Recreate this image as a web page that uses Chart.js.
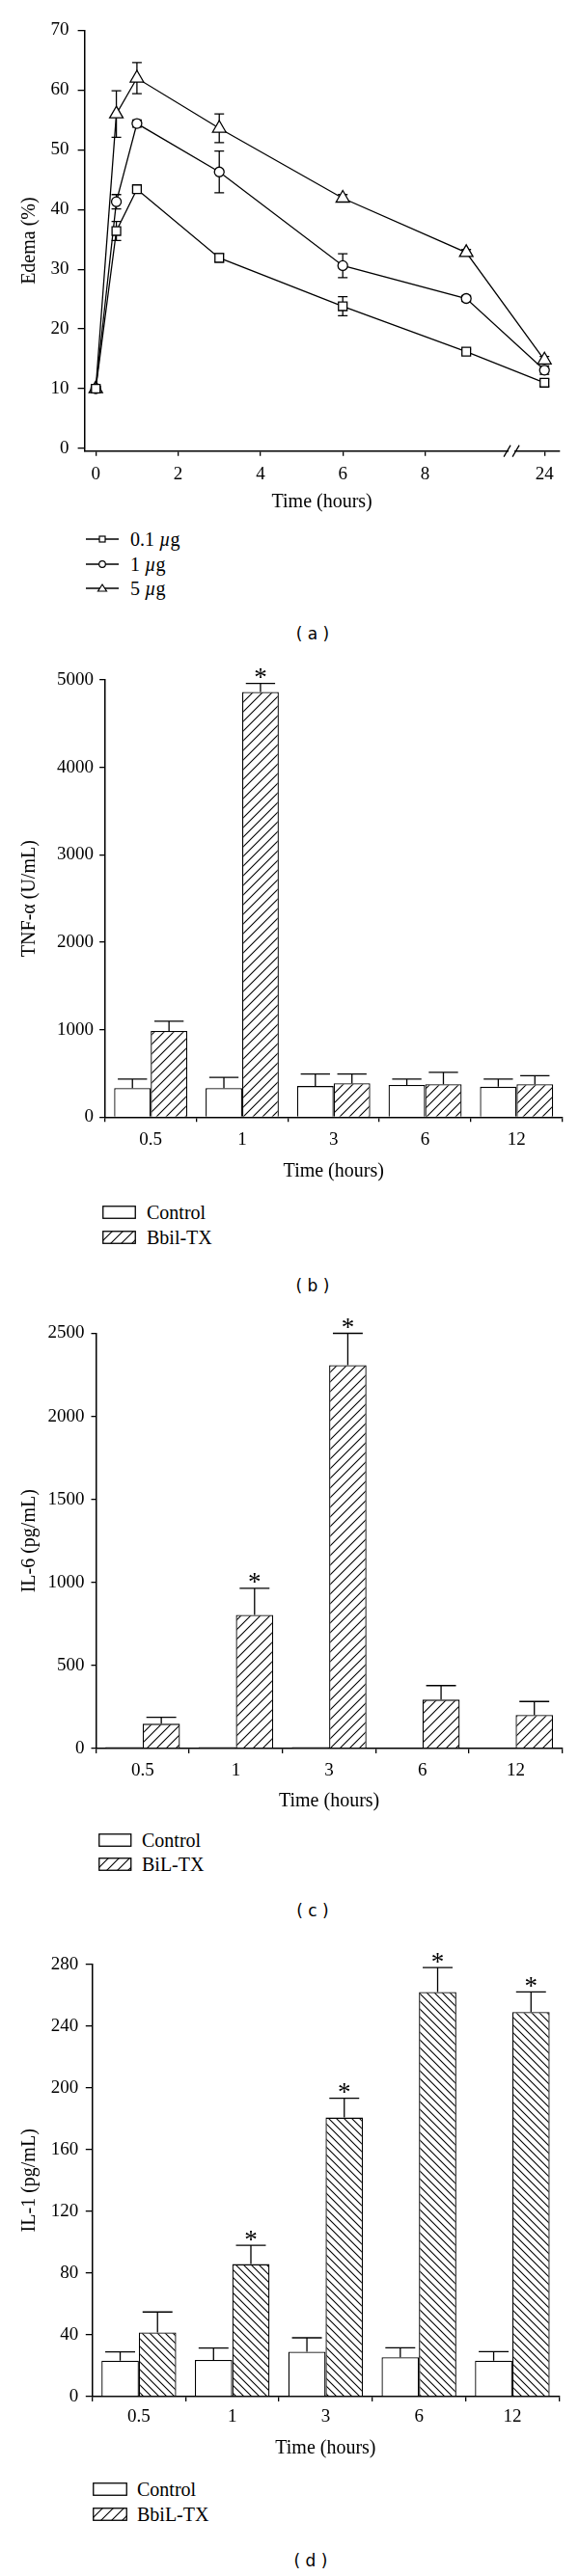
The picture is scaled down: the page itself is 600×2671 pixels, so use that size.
<!DOCTYPE html>
<html>
<head>
<meta charset="utf-8">
<script src="https://cdn.jsdelivr.net/npm/chart.js@4.4.0/dist/chart.umd.min.js"></script>
<style>
  body { margin: 0; background: #fff; }
  #page { position: relative; width: 600px; height: 2671px; font-family: "Liberation Serif", serif; color: #000; overflow: hidden; }
  .panel { position: absolute; left: 0; }
  .legend-row { position: absolute; height: 24px; line-height: 24px; font-size: 20px; white-space: nowrap; }
  .legend-row svg { position: absolute; left: 0; top: 5px; }
  .tag { position: absolute; font-family: "DejaVu Sans", sans-serif; font-size: 17px; line-height: 20px; transform: translateX(-50%); white-space: pre; }
</style>
</head>
<body>
<div id="page">
  <canvas id="chartA" class="panel" style="top:0px" width="600" height="533"></canvas>
  <canvas id="chartB" class="panel" style="top:680px" width="600" height="547"></canvas>
  <canvas id="chartC" class="panel" style="top:1345px" width="600" height="535"></canvas>
  <canvas id="chartD" class="panel" style="top:2000px" width="600" height="551"></canvas>

  <svg width="0" height="0" style="position:absolute">
    <defs>
      <pattern id="legHatch" width="11" height="11" patternUnits="userSpaceOnUse">
        <rect width="11" height="11" fill="#fff"/>
        <path d="M0,11 L11,0 M-1,1 L1,-1 M10,12 L12,10" stroke="#000" stroke-width="1.1"/>
      </pattern>
    </defs>
  </svg>

  <!-- legend (a) -->
  <div class="legend-row" style="left:89px; top:547px; padding-left:46px">
    <svg width="34" height="14"><line x1="0" y1="7" x2="34" y2="7" stroke="#000" stroke-width="1.3"/><rect x="14" y="4" width="6" height="6" fill="#fff" stroke="#000" stroke-width="1.2"/></svg>0.1 <i>µ</i>g</div>
  <div class="legend-row" style="left:89px; top:573px; padding-left:46px">
    <svg width="34" height="14"><line x1="0" y1="7" x2="34" y2="7" stroke="#000" stroke-width="1.3"/><circle cx="17" cy="7" r="3.3" fill="#fff" stroke="#000" stroke-width="1.2"/></svg>1 <i>µ</i>g</div>
  <div class="legend-row" style="left:89px; top:598px; padding-left:46px">
    <svg width="34" height="14"><line x1="0" y1="7" x2="34" y2="7" stroke="#000" stroke-width="1.3"/><polygon points="17,3 21.5,10 12.5,10" fill="#fff" stroke="#000" stroke-width="1.2"/></svg>5 <i>µ</i>g</div>
  <div class="tag" style="left:324px; top:647px">( a )</div>

  <!-- legend (b) -->
  <div class="legend-row" style="left:106px; top:1245px; padding-left:46px">
    <svg width="35" height="14"><rect x="0.75" y="0.75" width="33.5" height="12.5" fill="#fff" stroke="#000" stroke-width="1.3"/></svg>Control</div>
  <div class="legend-row" style="left:106px; top:1271px; padding-left:46px">
    <svg width="35" height="14"><rect x="0.75" y="0.75" width="33.5" height="12.5" fill="url(#legHatch)" stroke="#000" stroke-width="1.3"/></svg>Bbil-TX</div>
  <div class="tag" style="left:324px; top:1323px">( b )</div>

  <!-- legend (c) -->
  <div class="legend-row" style="left:102px; top:1896px; padding-left:45px">
    <svg width="35" height="14"><rect x="0.75" y="0.75" width="33" height="12.5" fill="#fff" stroke="#000" stroke-width="1.3"/></svg>Control</div>
  <div class="legend-row" style="left:102px; top:1921px; padding-left:45px">
    <svg width="35" height="14"><rect x="0.75" y="0.75" width="33" height="12.5" fill="url(#legHatch)" stroke="#000" stroke-width="1.3"/></svg>BiL-TX</div>
  <div class="tag" style="left:324px; top:1971px">( c )</div>

  <!-- legend (d) -->
  <div class="legend-row" style="left:96px; top:2569px; padding-left:46px">
    <svg width="36" height="14"><rect x="0.75" y="0.75" width="34.5" height="12.5" fill="#fff" stroke="#000" stroke-width="1.3"/></svg>Control</div>
  <div class="legend-row" style="left:96px; top:2595px; padding-left:46px">
    <svg width="36" height="14"><rect x="0.75" y="0.75" width="34.5" height="12.5" fill="url(#legHatch)" stroke="#000" stroke-width="1.3"/></svg>BbiL-TX</div>
  <div class="tag" style="left:322px; top:2645px">( d )</div>
</div>

<script>
// ---- data ----
// (a) paw edema
const edemaHours = [0, 0.5, 1, 3, 6, 9, 24];
const edemaTickHours = [0, 2, 4, 6, 8, 24];
const edemaYTicks = [0, 10, 20, 30, 40, 50, 60, 70];
const dose01 = [10, 36.4, 43.4, 31.9, 23.8, 16.2, 11.0];
const dose01Err = [0.4, 1.6, 0.5, 0.7, 1.6, 0.4, 0.6];
const dose1 = [10, 41.3, 54.4, 46.3, 30.6, 25.1, 13.1];
const dose1Err = [0.4, 1.2, 0.6, 3.5, 2.0, 0.5, 0.7];
const dose5 = [10, 56.0, 62.0, 53.6, 41.9, 32.8, 14.8];
const dose5Err = [0.4, 3.9, 2.6, 2.4, 0.6, 0.5, 0.6];

// (b)-(d) cytokines
const hourLabels = ['0.5', '1', '3', '6', '12'];

const tnfYTicks = [0, 1000, 2000, 3000, 4000, 5000];
const tnfControl = [331, 331, 355, 367, 347];
const tnfControlErr = [103, 123, 138, 67, 87];
const tnfToxin = [986, 4862, 387, 375, 375];
const tnfToxinErr = [111, 98, 106, 138, 98];
const tnfStars = [false, true, false, false, false];

const il6YTicks = [0, 500, 1000, 1500, 2000, 2500];
const il6Control = [8, 8, 8, 6, 6];
const il6Toxin = [149, 804, 2309, 294, 202];
const il6ToxinErr = [39, 161, 191, 85, 81];
const il6Stars = [false, true, true, false, false];

const il1YTicks = [0, 40, 80, 120, 160, 200, 240, 280];
const il1Control = [23.3, 23.7, 29.1, 25.4, 23.3];
const il1ControlErr = [5.6, 7.7, 9.0, 6.2, 5.8];
const il1Toxin = [41.6, 85.8, 180.7, 262, 249];
const il1ToxinErr = [13.2, 12.1, 12.5, 15.8, 13.0];
const il1Stars = [false, true, true, true, true];

// axis break in (a): everything after 9 h is squeezed
const breakFrom = 9;
const squeeze = 1.9 / 15;
const breakMarkAt = 10.1;
function axisHour(h) {
    return h <= breakFrom ? h : breakFrom + (h - breakFrom) * squeeze;
}

Chart.defaults.font.family = '"Liberation Serif", serif';
Chart.defaults.color = '#000';
Chart.defaults.animation = false;

function hatch(ctx, dir, gap) {
    const c = document.createElement('canvas');
    c.width = gap; c.height = gap;
    const g = c.getContext('2d');
    g.fillStyle = '#fff';
    g.fillRect(0, 0, gap, gap);
    g.strokeStyle = '#000';
    g.lineWidth = 1.1;
    g.beginPath();
    if (dir === '/') {
        g.moveTo(0, gap); g.lineTo(gap, 0);
        g.moveTo(-1, 1); g.lineTo(1, -1);
        g.moveTo(gap - 1, gap + 1); g.lineTo(gap + 1, gap - 1);
    } else {
        g.moveTo(0, 0); g.lineTo(gap, gap);
        g.moveTo(gap - 1, -1); g.lineTo(gap + 1, 1);
        g.moveTo(-1, gap - 1); g.lineTo(1, gap + 1);
    }
    g.stroke();
    return ctx.createPattern(c, 'repeat');
}

function valueOf(point) {
    return (typeof point === 'object') ? point.y : point;
}

function drawErrorBars(chart, mode) {
    const ctx = chart.ctx;
    const yScale = chart.scales.y;
    chart.data.datasets.forEach((ds, i) => {
        if (!ds.errors || ds.errorMode !== mode) return;
        const meta = chart.getDatasetMeta(i);
        meta.data.forEach((el, j) => {
            const err = ds.errors[j];
            if (!err) return;
            const v = valueOf(ds.data[j]);
            const x = el.x;
            const yTop = yScale.getPixelForValue(v + err);
            const yBot = mode === 'both' ? yScale.getPixelForValue(v - err) : el.y;
            const half = ds.capHalf || el.width * 0.4;
            ctx.save();
            ctx.strokeStyle = '#000';
            ctx.lineWidth = 1.3;
            ctx.beginPath();
            ctx.moveTo(x, yTop); ctx.lineTo(x, yBot);
            ctx.moveTo(x - half, yTop); ctx.lineTo(x + half, yTop);
            if (mode === 'both') {
                ctx.moveTo(x - half, yBot); ctx.lineTo(x + half, yBot);
            }
            ctx.stroke();
            ctx.restore();
        });
    });
}

function drawStars(chart) {
    const ctx = chart.ctx;
    const yScale = chart.scales.y;
    chart.data.datasets.forEach((ds, i) => {
        if (!ds.stars) return;
        const meta = chart.getDatasetMeta(i);
        ctx.save();
        ctx.font = '27px "Liberation Serif", serif';
        ctx.fillStyle = '#000';
        ctx.textAlign = 'center';
        ctx.textBaseline = 'alphabetic';
        const m = ctx.measureText('*');
        const shift = (m.actualBoundingBoxAscent - m.actualBoundingBoxDescent) / 2;
        meta.data.forEach((el, j) => {
            if (!ds.stars[j]) return;
            const top = yScale.getPixelForValue(valueOf(ds.data[j]) + (ds.errors ? ds.errors[j] : 0));
            ctx.fillText('*', el.x, top - 10 + shift);
        });
        ctx.restore();
    });
}

const errorBarPlugin = {
    id: 'errorBarPlugin',
    beforeDatasetsDraw(chart) { drawErrorBars(chart, 'both'); },
    afterDatasetsDraw(chart) { drawErrorBars(chart, 'up'); drawStars(chart); }
};

const axisBreakPlugin = {
    id: 'axisBreakPlugin',
    afterDraw(chart) {
        if (!chart.options.plugins.axisBreakPlugin) return;
        const ctx = chart.ctx;
        const x = chart.scales.x.getPixelForValue(breakMarkAt);
        const y = chart.chartArea.bottom;
        ctx.save();
        ctx.fillStyle = '#fff';
        ctx.fillRect(x - 3, y - 2, 6, 4);
        ctx.strokeStyle = '#000';
        ctx.lineWidth = 1.3;
        ctx.beginPath();
        ctx.moveTo(x - 8, y + 6); ctx.lineTo(x - 1, y - 6);
        ctx.moveTo(x + 1, y + 6); ctx.lineTo(x + 8, y - 6);
        ctx.stroke();
        ctx.restore();
    }
};

function axisLook(tickLength) {
    return {
        grid: { display: true, drawOnChartArea: false, drawTicks: true, tickLength: tickLength, color: '#000', lineWidth: 1.3 },
        border: { display: true, color: '#000', width: 1.5 }
    };
}

// plot box: left / top / right in canvas pixels, xh = height of the x-axis band
function makeScales(box, yTicks, yMin, yMax, yTitle, yTick, xTickPad) {
    return {
        x: {
            ...axisLook(5),
            ticks: { font: { size: 19 }, color: '#000', padding: xTickPad, maxRotation: 0, autoSkip: false },
            title: { display: true, text: 'Time (hours)', font: { size: 20 }, color: '#000', padding: { top: 0, bottom: 0 } },
            afterFit: (s) => { s.height = box.xh; }
        },
        y: {
            min: yMin,
            max: yMax,
            ...axisLook(yTick.len),
            ticks: { font: { size: 19 }, color: '#000', padding: yTick.pad, callback: (v) => String(v) },
            afterBuildTicks: (s) => { s.ticks = yTicks.map(v => ({ value: v })); },
            title: { display: true, text: yTitle, font: { size: 20 }, color: '#000', padding: { top: 19, bottom: 0 } },
            afterFit: (s) => { s.width = box.left; }
        }
    };
}

function layoutFor(box) {
    return { padding: { left: 0, top: box.top, right: 600 - box.right, bottom: 0 } };
}

// ---- (a) edema line chart ----
const boxA = { left: 87.3, top: 31.5, right: 580, xh: 65.3 };
const scalesA = makeScales(boxA, edemaYTicks, -0.45, 70, 'Edema (%)', { len: 6.7, pad: 9 }, 7.6);
scalesA.x.type = 'linear';
scalesA.x.min = -0.28;
scalesA.x.max = 11.27;
scalesA.x.afterBuildTicks = (s) => { s.ticks = edemaTickHours.map(h => ({ value: axisHour(h) })); };
scalesA.x.ticks.callback = (v, i) => String(edemaTickHours[i]);

function doseSet(label, values, errs, style, radius) {
    return {
        label: label,
        data: edemaHours.map((h, i) => ({ x: axisHour(h), y: values[i] })),
        borderColor: '#000',
        borderWidth: 1.3,
        tension: 0,
        pointStyle: style,
        pointRadius: radius,
        pointBackgroundColor: '#fff',
        pointBorderColor: '#000',
        pointBorderWidth: 1.3,
        errors: errs,
        errorMode: 'both',
        capHalf: 5
    };
}

new Chart(document.getElementById('chartA'), {
    type: 'line',
    data: {
        datasets: [
            doseSet('0.1 µg', dose01, dose01Err, 'rect', 6.3),
            doseSet('1 µg', dose1, dose1Err, 'circle', 5),
            doseSet('5 µg', dose5, dose5Err, 'triangle', 8)
        ]
    },
    options: {
        responsive: false,
        maintainAspectRatio: false,
        layout: layoutFor(boxA),
        scales: scalesA,
        plugins: { legend: { display: false }, tooltip: { enabled: false }, axisBreakPlugin: true }
    },
    plugins: [errorBarPlugin, axisBreakPlugin]
});

// ---- bar charts ----
function barChart(id, box, yTicks, yTitle, yTick, xTickPad, control, controlErr, toxin, toxinErr, stars, dir, gap) {
    const canvas = document.getElementById(id);
    const ctx = canvas.getContext('2d');
    return new Chart(ctx, {
        type: 'bar',
        data: {
            labels: hourLabels,
            datasets: [
                {
                    label: 'Control',
                    data: control,
                    backgroundColor: '#fff',
                    borderColor: '#000',
                    borderWidth: 1.3,
                    errors: controlErr,
                    errorMode: 'up'
                },
                {
                    label: 'Toxin',
                    data: toxin,
                    backgroundColor: hatch(ctx, dir, gap),
                    borderColor: '#000',
                    borderWidth: 1.3,
                    errors: toxinErr,
                    errorMode: 'up',
                    stars: stars
                }
            ]
        },
        options: {
            responsive: false,
            maintainAspectRatio: false,
            categoryPercentage: 0.8,
            barPercentage: 1.0,
            layout: layoutFor(box),
            scales: makeScales(box, yTicks, 0, yTicks[yTicks.length - 1], yTitle, yTick, xTickPad),
            plugins: { legend: { display: false }, tooltip: { enabled: false } }
        },
        plugins: [errorBarPlugin]
    });
}

barChart('chartB', { left: 108.8, top: 25, right: 582.7, xh: 68.7 }, tnfYTicks, 'TNF-α (U/mL)',
    { len: 5.7, pad: 6 }, 7, tnfControl, tnfControlErr, tnfToxin, tnfToxinErr, tnfStars, '/', 10);

barChart('chartC', { left: 99.5, top: 37.5, right: 582.7, xh: 67 }, il6YTicks, 'IL-6 (pg/mL)',
    { len: 5, pad: 7 }, 6.6, il6Control, null, il6Toxin, il6ToxinErr, il6Stars, '/', 10);

barChart('chartD', { left: 95.5, top: 36.6, right: 579.3, xh: 66 }, il1YTicks, 'IL-1 (pg/mL)',
    { len: 6.7, pad: 7.6 }, 4.3, il1Control, il1ControlErr, il1Toxin, il1ToxinErr, il1Stars, '\\', 8);
</script>
</body>
</html>
